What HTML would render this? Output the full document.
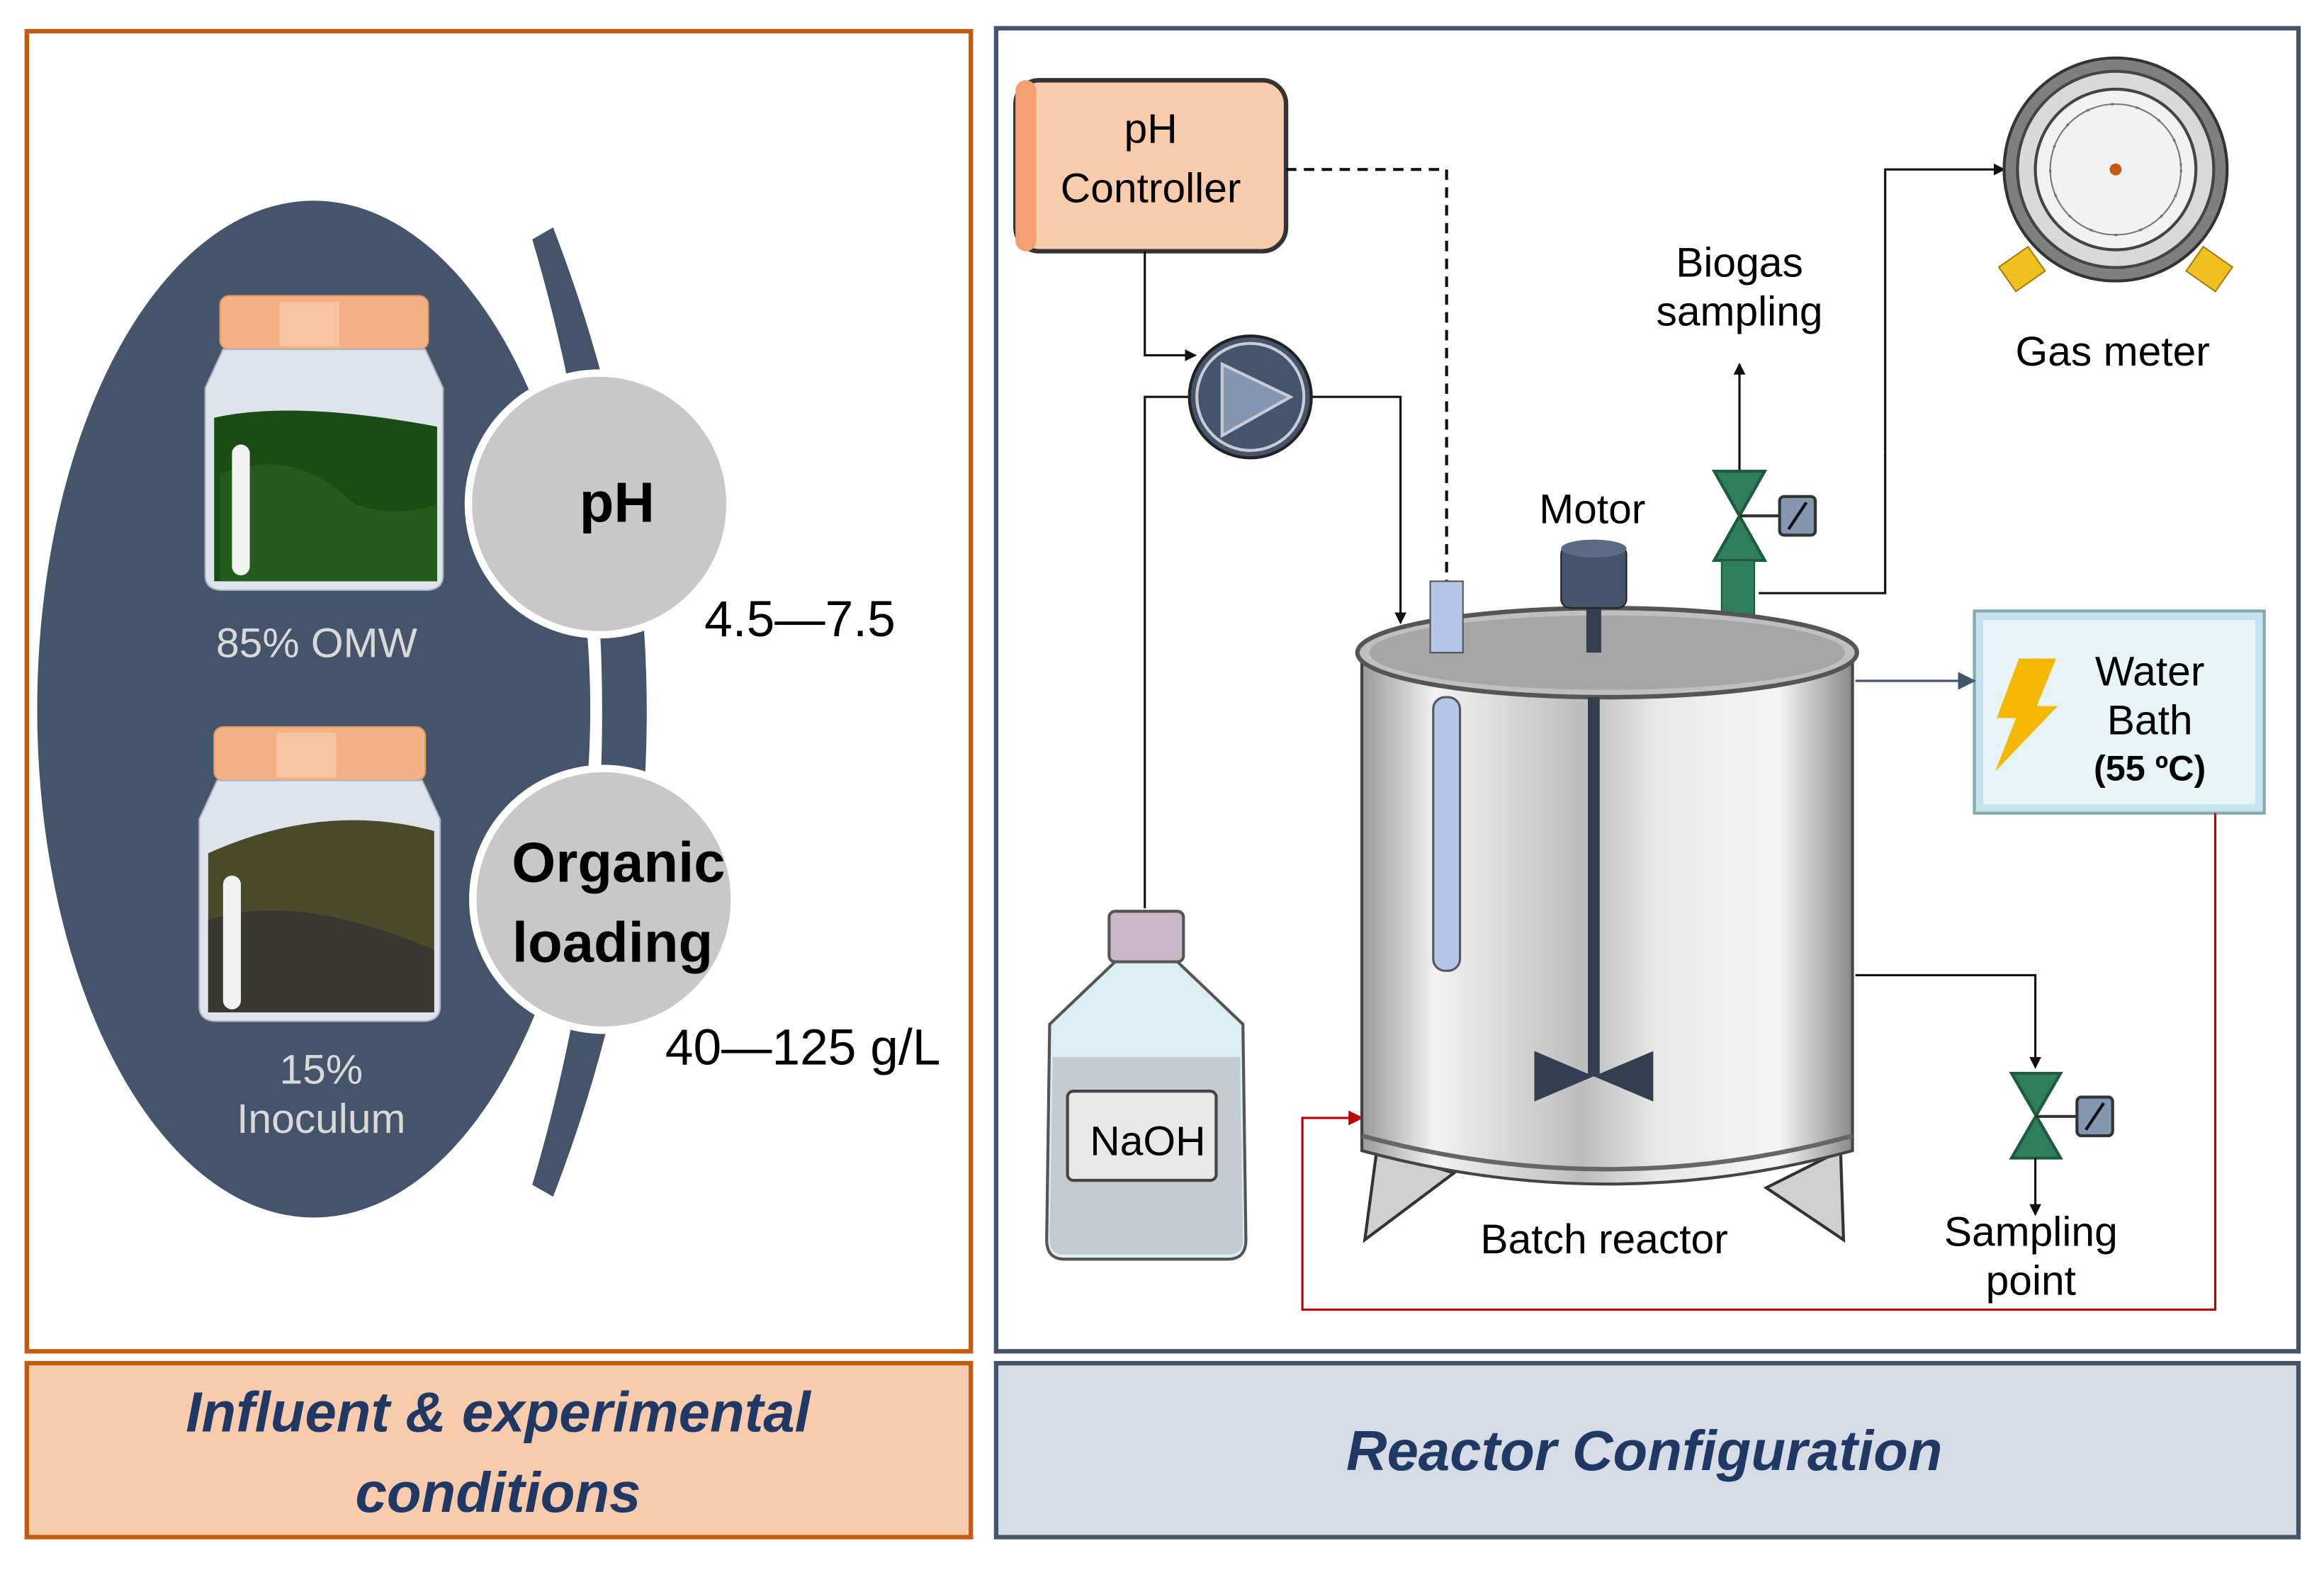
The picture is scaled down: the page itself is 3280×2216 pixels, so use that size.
<!DOCTYPE html>
<html><head><meta charset="utf-8"><style>
html,body{margin:0;padding:0;background:#fff;}
svg{display:block;}
text{font-family:"Liberation Sans","DejaVu Sans",sans-serif;}
</style></head><body>
<svg width="3280" height="2216" viewBox="0 0 1560 1054" xmlns="http://www.w3.org/2000/svg">
<defs>
<linearGradient id="steel" x1="0" x2="1" y1="0" y2="0">
<stop offset="0" stop-color="#9a9a9a"/><stop offset="0.15" stop-color="#f2f2f2"/><stop offset="0.45" stop-color="#bdbdbd"/><stop offset="0.6" stop-color="#e8e8e8"/><stop offset="0.85" stop-color="#f5f5f5"/><stop offset="1" stop-color="#8a8a8a"/>
</linearGradient>
<marker id="ar" markerWidth="8" markerHeight="8" refX="7" refY="4" orient="auto" markerUnits="userSpaceOnUse"><path d="M0,0 L8,4 L0,8 z" fill="#111"/></marker>
<marker id="arr" markerWidth="10" markerHeight="10" refX="9" refY="5" orient="auto" markerUnits="userSpaceOnUse"><path d="M0,0 L10,5 L0,10 z" fill="#c00000"/></marker>
<marker id="arb" markerWidth="12" markerHeight="12" refX="11" refY="6" orient="auto" markerUnits="userSpaceOnUse"><path d="M0,0 L12,6 L0,12 z" fill="#44546a"/></marker>
</defs>
<g transform="translate(-2,-1) scale(0.998)">
<!-- Left panel -->
<rect x="20" y="22" width="635" height="888" fill="#fff" stroke="#c55a11" stroke-width="3"/>
<rect x="20" y="918" width="635" height="117" fill="#f8cbad" stroke="#c55a11" stroke-width="3"/>
<text x="337" y="964" text-anchor="middle" font-size="38" font-weight="bold" font-style="italic" fill="#203864">Influent &amp; experimental</text>
<text x="337" y="1018" text-anchor="middle" font-size="38" font-weight="bold" font-style="italic" fill="#203864">conditions</text>

<ellipse cx="213" cy="478" rx="186" ry="342" fill="#44546a"/>
<path d="M360,162 Q454,480 360,798 L374,806 Q500,480 374,154 Z" fill="#44546a"/>

<!-- jar 1 -->
<rect x="150" y="200" width="140" height="36" rx="6" fill="#f4b183" stroke="#e39a60"/>
<rect x="190" y="204" width="40" height="30" fill="#f8cbad" opacity="0.7"/>
<path d="M152,236 L288,236 L300,262 L300,388 Q300,398 288,398 L152,398 Q140,398 140,388 L140,262 Z" fill="#dfe3ec" stroke="#b0b4c0"/>
<path d="M146,282 Q200,270 296,288 L296,392 L146,392 Z" fill="#1a4d14"/>
<path d="M150,320 Q200,300 240,340 Q270,350 296,340 L296,392 L150,392 Z" fill="#245f1b" opacity="0.8"/>
<rect x="158" y="300" width="12" height="88" rx="6" fill="#f2f2f2"/>
<text x="215" y="443" text-anchor="middle" font-size="28" fill="#d9d9d9">85% OMW</text>

<!-- jar 2 -->
<rect x="146" y="490" width="142" height="36" rx="6" fill="#f4b183" stroke="#e39a60"/>
<rect x="188" y="494" width="40" height="30" fill="#f8cbad" opacity="0.7"/>
<path d="M148,526 L286,526 L298,552 L298,678 Q298,688 286,688 L148,688 Q136,688 136,678 L136,552 Z" fill="#dfe3ec" stroke="#b0b4c0"/>
<path d="M142,575 Q220,540 294,560 L294,682 L142,682 Z" fill="#4a4a2a"/>
<path d="M142,620 Q200,600 294,640 L294,682 L142,682 Z" fill="#333" opacity="0.8"/>
<rect x="152" y="590" width="12" height="90" rx="6" fill="#f2f2f2"/>
<text x="218" y="730" text-anchor="middle" font-size="28" fill="#d9d9d9">15%</text>
<text x="218" y="763" text-anchor="middle" font-size="28" fill="#d9d9d9">Inoculum</text>

<circle cx="405" cy="340" r="88" fill="#c8c8c8" stroke="#fff" stroke-width="5"/>
<text x="417" y="352" text-anchor="middle" font-size="38" font-weight="bold" fill="#000">pH</text>
<circle cx="408" cy="606" r="88" fill="#c8c8c8" stroke="#fff" stroke-width="5"/>
<text x="418" y="594" text-anchor="middle" font-size="38" font-weight="bold" fill="#000">Organic</text>
<text x="414" y="648" text-anchor="middle" font-size="38" font-weight="bold" fill="#000">loading</text>
<text x="540" y="429" text-anchor="middle" font-size="34" fill="#000">4.5—7.5</text>
<text x="542" y="717" text-anchor="middle" font-size="34" fill="#000">40—125 g/L</text>

<!-- Right panel -->
<rect x="672" y="20" width="876" height="890" fill="#fff" stroke="#44546a" stroke-width="3"/>
<rect x="672" y="918" width="876" height="117" fill="#d6dce5" stroke="#44546a" stroke-width="3"/>
<text x="1108" y="990" text-anchor="middle" font-size="38" font-weight="bold" font-style="italic" fill="#203864">Reactor Configuration</text>

<!-- pH controller -->
<rect x="685" y="55" width="182" height="115" rx="16" fill="#f8cbad" stroke="#333" stroke-width="3"/>
<rect x="685" y="55" width="14" height="115" rx="7" fill="#f4a070"/>
<text x="776" y="97" text-anchor="middle" font-size="28" fill="#000">pH</text>
<text x="776" y="137" text-anchor="middle" font-size="28" fill="#000">Controller</text>

<path d="M867,115 L975,115 L975,392" fill="none" stroke="#111" stroke-width="2" stroke-dasharray="7,5"/>
<path d="M772,170 L772,240 L806,240" fill="none" stroke="#111" stroke-width="1.5" marker-end="url(#ar)"/>
<path d="M772,612 L772,268 L803,268" fill="none" stroke="#111" stroke-width="1.5"/>
<path d="M883,268 L944,268 L944,420" fill="none" stroke="#111" stroke-width="1.5" marker-end="url(#ar)"/>

<!-- pump -->
<circle cx="843" cy="268" r="41" fill="#44546a" stroke="#222" stroke-width="2"/>
<circle cx="843" cy="268" r="36" fill="#44546a" stroke="#c8cdd5" stroke-width="2"/>
<path d="M824,246 L870,268 L824,294 Z" fill="#8497b0" stroke="#c8cdd5" stroke-width="2"/>

<!-- Gas meter -->
<path d="M1270,305 L1270,115 L1350,115" fill="none" stroke="#111" stroke-width="1.5" marker-end="url(#ar)"/>
<path d="M1185,400 L1270,400 L1270,305" fill="none" stroke="#111" stroke-width="1.5"/>
<rect x="1350" y="172" width="24" height="20" fill="#f0c020" stroke="#a08010" transform="rotate(-35 1362 182)"/>
<rect x="1476" y="172" width="24" height="20" fill="#f0c020" stroke="#a08010" transform="rotate(35 1488 182)"/>
<circle cx="1425" cy="115" r="75" fill="#7f7f7f" stroke="#333" stroke-width="2"/>
<circle cx="1425" cy="115" r="66" fill="#d9d9d9" stroke="#444" stroke-width="2"/>
<circle cx="1425" cy="115" r="54" fill="#f2f2f2" stroke="#444" stroke-width="2"/>
<circle cx="1425" cy="115" r="44" fill="none" stroke="#666" stroke-width="1.5" stroke-dasharray="2,15"/>
<circle cx="1425" cy="115" r="44" fill="none" stroke="#777" stroke-width="1"/>
<circle cx="1425" cy="115" r="4" fill="#c55a11"/>
<text x="1423" y="247" text-anchor="middle" font-size="28" fill="#000">Gas meter</text>

<!-- Biogas sampling -->
<text x="1172" y="187" text-anchor="middle" font-size="28" fill="#000">Biogas</text>
<text x="1172" y="220" text-anchor="middle" font-size="28" fill="#000">sampling</text>
<path d="M1172,318 L1172,246" fill="none" stroke="#111" stroke-width="1.5" marker-end="url(#ar)"/>
<path d="M1155,318 L1189,318 L1155,378 L1189,378 Z" fill="#2e7d5b" stroke="#1d5a40" stroke-width="2"/>
<line x1="1172" y1="348" x2="1200" y2="348" stroke="#333" stroke-width="2"/>
<rect x="1199" y="335" width="24" height="26" rx="3" fill="#8497b0" stroke="#333" stroke-width="2"/>
<line x1="1205" y1="357" x2="1217" y2="339" stroke="#111" stroke-width="2"/>
<rect x="1160" y="378" width="22" height="66" fill="#2e7d5b" stroke="#1d5a40"/>

<text x="1073" y="353" text-anchor="middle" font-size="28" fill="#000">Motor</text>

<!-- Water bath -->
<rect x="1330" y="412" width="195" height="136" fill="#c5e3ef" stroke="#8aa" stroke-width="2"/>
<rect x="1336" y="418" width="183" height="124" fill="#e6f4f8"/>
<path d="M1360,444 L1385,444 L1372,476 L1386,476 L1344,520 L1358,484 L1345,484 Z" fill="#f5b800"/>
<text x="1448" y="462" text-anchor="middle" font-size="28" fill="#000">Water</text>
<text x="1448" y="495" text-anchor="middle" font-size="28" fill="#000">Bath</text>
<text x="1448" y="526" text-anchor="middle" font-size="24" font-weight="bold" fill="#000">(55 ºC)</text>
<path d="M1250,459 L1330,459" fill="none" stroke="#44546a" stroke-width="1.5" marker-end="url(#arb)"/>

<path d="M1492,548 L1492,882 L878,882 L878,753 L918,753" fill="none" stroke="#c00000" stroke-width="1.5" marker-end="url(#arr)"/>

<!-- Reactor -->
<path d="M928,775 L920,835 L980,790 Z" fill="#d0d0d0" stroke="#333" stroke-width="2"/>
<path d="M1240,775 L1242,835 L1190,800 Z" fill="#d0d0d0" stroke="#333" stroke-width="2"/>
<path d="M918,440 L1248,440 L1248,775 Q1083,820 918,775 Z" fill="url(#steel)" stroke="#444" stroke-width="2"/>
<path d="M918,765 Q1083,810 1248,765" fill="none" stroke="#666" stroke-width="3"/>
<ellipse cx="1083" cy="440" rx="168" ry="30" fill="#bfbfbf" stroke="#555" stroke-width="3"/>
<ellipse cx="1083" cy="440" rx="160" ry="25" fill="#a6a6a6"/>
<rect x="1069" y="408" width="10" height="32" fill="#333f50"/>
<rect x="1070" y="470" width="8" height="255" fill="#333f50"/>
<path d="M1034,708 L1074,725 L1034,742 Z M1114,708 L1074,725 L1114,742 Z" fill="#333f50"/>
<rect x="1052" y="368" width="44" height="42" rx="6" fill="#44546a" stroke="#222"/>
<ellipse cx="1074" cy="370" rx="22" ry="6" fill="#5a6b85"/>
<rect x="964" y="392" width="22" height="48" fill="#b4c7e7" stroke="#555"/>
<rect x="966" y="470" width="18" height="184" rx="8" fill="#b4c7e7" stroke="#556" stroke-width="1.5"/>
<text x="1081" y="844" text-anchor="middle" font-size="28" fill="#000">Batch reactor</text>

<!-- sampling point -->
<path d="M1250,657 L1371,657 L1371,719" fill="none" stroke="#111" stroke-width="1.5" marker-end="url(#ar)"/>
<path d="M1355,723 L1388,723 L1355,780 L1388,780 Z" fill="#2e7d5b" stroke="#1d5a40" stroke-width="2"/>
<line x1="1371" y1="752" x2="1400" y2="752" stroke="#333" stroke-width="2"/>
<rect x="1399" y="739" width="24" height="26" rx="3" fill="#8497b0" stroke="#333" stroke-width="2"/>
<line x1="1405" y1="761" x2="1417" y2="743" stroke="#111" stroke-width="2"/>
<path d="M1371,780 L1371,818" fill="none" stroke="#111" stroke-width="1.5" marker-end="url(#ar)"/>
<text x="1368" y="839" text-anchor="middle" font-size="28" fill="#000">Sampling</text>
<text x="1368" y="872" text-anchor="middle" font-size="28" fill="#000">point</text>

<!-- NaOH bottle -->
<rect x="748" y="614" width="50" height="34" rx="4" fill="#c9b8c8" stroke="#555" stroke-width="2"/>
<path d="M752,648 L794,648 L838,690 L840,835 Q840,848 828,848 L718,848 Q706,848 706,835 L708,690 Z" fill="#dbeef4" stroke="#555" stroke-width="2"/>
<path d="M710,712 L836,712 L838,835 Q838,845 828,845 L718,845 Q708,845 708,835 Z" fill="#c5c9d0"/>
<rect x="720" y="735" width="100" height="60" rx="4" fill="#e8e8e8" stroke="#444" stroke-width="2"/>
<text x="774" y="778" text-anchor="middle" font-size="28" fill="#000">NaOH</text>
</g>
</svg>
</body></html>
